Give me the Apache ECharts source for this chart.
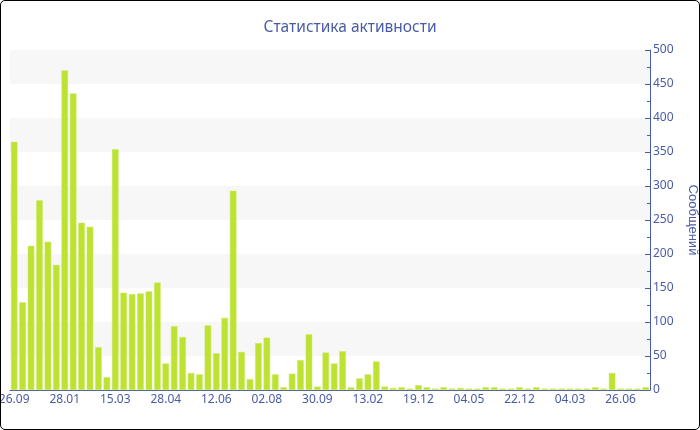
<!DOCTYPE html>
<html>
<head>
<meta charset="utf-8">
<script src="https://cdn.jsdelivr.net/npm/echarts@6/dist/echarts.min.js"></script>
<style>
html,body{margin:0;padding:0;background:#fff;}
#wrap{width:700px;height:430px;box-sizing:border-box;border:1px solid #000;border-radius:5px;overflow:hidden;}
#chart{width:698px;height:428px;}
</style>
</head>
<body>
<div id="wrap"><div id="chart"></div></div>
<script>
const title = 'Статистика активности';
const yName = 'Сообщений';
const tickLabels = ['26.09','28.01','15.03','28.04','12.06','02.08','30.09','13.02','19.12','04.05','22.12','04.03','26.06'];
const values = [
  365,129,212,279,218,184,470,436,246,240,63,19,
  354,143,141,142,145,158,39,94,78,25,23,95,
  54,106,293,56,16,69,77,23,4,24,44,82,
  5,55,39,57,4,17,23,42,5,3,4,2,
  7,4,2,4,2,3,2,2,4,4,2,2,
  4,2,4,2,2,2,2,2,2,4,2,25,
  2,2,2,4
];
const categories = values.map((_, i) => String(i));
const labelStep = 6;

const blue = '#4a5ba6';
const chart = echarts.init(document.getElementById('chart'), null, {renderer:'canvas'});
chart.setOption({
  animation: false,
  title: {
    text: title, left: 'center', top: 14,
    textStyle: {color: blue, fontSize: 15.5, fontWeight: 'normal', fontFamily: 'Noto Sans'}
  },
  grid: {left: 9, right: 49, top: 49, bottom: 39, containLabel: false, outerBoundsMode: 'none'},
  xAxis: {
    type: 'category',
    data: categories,
    boundaryGap: true,
    axisLine: {lineStyle: {color: blue, width: 1}},
    axisTick: {alignWithLabel: true, interval: labelStep - 1, length: 4, lineStyle: {color: '#999'}},
    axisLabel: {
      interval: labelStep - 1, color: blue, fontSize: 12, fontFamily: 'Noto Sans', margin: 4,
      formatter: (v, i) => (i % labelStep === 0 ? tickLabels[i / labelStep] : '')
    },
    splitLine: {show: false}
  },
  yAxis: {
    type: 'value',
    position: 'right',
    min: 0, max: 500, interval: 50,
    name: yName,
    nameLocation: 'middle',
    nameRotate: -90,
    nameGap: 36,
    nameTextStyle: {color: blue, fontSize: 13, fontFamily: 'Liberation Sans'},
    axisLine: {show: true, lineStyle: {color: blue}},
    axisTick: {show: true, inside: true, length: 5, lineStyle: {color: blue}},
    minorTick: {show: true, splitNumber: 2, length: 3, lineStyle: {color: blue}},
    axisLabel: {color: blue, fontSize: 12, fontFamily: 'Noto Sans', margin: 3},
    splitLine: {show: false},
    splitArea: {show: true, areaStyle: {color: ['#ffffff', '#f7f7f7']}}
  },
  series: [{
    type: 'bar',
    data: values,
    barCategoryGap: '22%',
    itemStyle: {color: '#bde232', borderColor: '#cdea6a', borderWidth: 0.5}
  }]
});
</script>
</body>
</html>
